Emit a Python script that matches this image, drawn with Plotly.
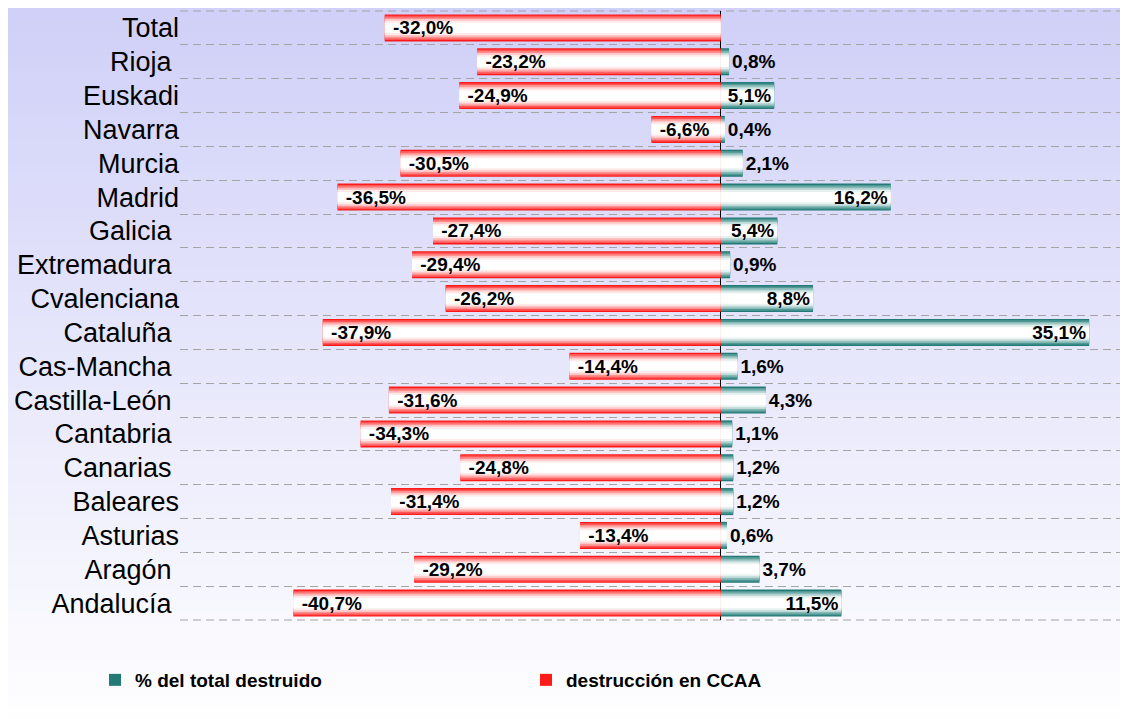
import plotly.graph_objects as go

regiones = ["Total", "Rioja", "Euskadi", "Navarra", "Murcia", "Madrid", "Galicia",
            "Extremadura", "Cvalenciana", "Cataluña", "Cas-Mancha", "Castilla-León",
            "Cantabria", "Canarias", "Baleares", "Asturias", "Aragón", "Andalucía"]
destruccion = [-32.0, -23.2, -24.9, -6.6, -30.5, -36.5, -27.4, -29.4, -26.2,
               -37.9, -14.4, -31.6, -34.3, -24.8, -31.4, -13.4, -29.2, -40.7]
pct_total = [None, 0.8, 5.1, 0.4, 2.1, 16.2, 5.4, 0.9, 8.8,
             35.1, 1.6, 4.3, 1.1, 1.2, 1.2, 0.6, 3.7, 11.5]
# etiquetas con espacio final en el original
etiquetas = ["Total", "Rioja\u00a0", "Euskadi", "Navarra", "Murcia", "Madrid", "Galicia\u00a0",
             "Extremadura\u00a0", "Cvalenciana", "Cataluña\u00a0", "Cas-Mancha\u00a0",
             "Castilla-León\u00a0", "Cantabria\u00a0", "Canarias\u00a0", "Baleares",
             "Asturias", "Aragón\u00a0", "Andalucía\u00a0"]


def fmt(v, pre=""):
    return "" if v is None else pre + f"{v:.1f}%".replace(".", ",")


FONT = "Liberation Sans, Arial, sans-serif"
# la página tiene 8px de margen en el body: se compensa aquí
W, H = 1120, 711
ML, MR, MT, MB = 172, 0, 3, 99
PW, PH = W - ML - MR, H - MT - MB
X_RANGE = [-51.5, 38.8]
GRID = dict(color="#a4a4a4", width=1, dash="8px,5px")

fig = go.Figure()

# degradado de fondo
n = 60
top, bot = (208, 208, 248), (254, 254, 255)
for i in range(n):
    f = i / (n - 1)
    c = tuple(round(top[k] + (bot[k] - top[k]) * f) for k in range(3))
    y1 = 1 + MT / PH - i * (H / PH) / n
    fig.add_shape(type="rect", xref="paper", yref="paper", layer="below",
                  x0=-ML / PW, x1=1, y0=y1 - (H / PH) / n - 0.002, y1=y1,
                  line_width=0, fillcolor="rgb(%d,%d,%d)" % c)

# líneas de rejilla superior e inferior
for yy in (0, 1):
    fig.add_shape(type="line", xref="paper", yref="paper", layer="below",
                  x0=0, x1=1, y0=yy, y1=yy, line=GRID)

widths = [0.8, 0.72, 0.62, 0.52, 0.42, 0.3]
teal_cols = ["#237a76", "#4f9894", "#86b9b6", "#bcd9d7", "#e6f1f0", "#ffffff"]
red_cols = ["#ff1a1a", "#ff5555", "#ff8f8f", "#ffc4c4", "#ffeaea", "#ffffff"]

for i, (w, c) in enumerate(zip(widths, teal_cols)):
    fig.add_trace(go.Bar(y=regiones, x=pct_total, orientation="h", width=w,
                         marker=dict(color=c, line_width=0),
                         name="% del total destruido", showlegend=(i == 0),
                         legendrank=1, hoverinfo="skip"))
for i, (w, c) in enumerate(zip(widths, red_cols)):
    fig.add_trace(go.Bar(y=regiones, x=destruccion, orientation="h", width=w,
                         marker=dict(color=c, line_width=0),
                         name="destrucción en CCAA", showlegend=(i == 0),
                         legendrank=2, hoverinfo="skip"))

# etiquetas de valor
lab_font = dict(family=FONT, size=19, color="black", weight="bold")
fig.add_trace(go.Bar(y=regiones, x=pct_total, orientation="h", width=0.8,
                     marker=dict(color="rgba(0,0,0,0)", line_width=0),
                     text=[fmt(v) for v in pct_total], textposition="auto",
                     textangle=0, constraintext="none", textfont=lab_font,
                     showlegend=False))
fig.add_trace(go.Bar(y=regiones, x=destruccion, orientation="h", width=0.8,
                     marker=dict(color="rgba(0,0,0,0)", line_width=0),
                     text=[fmt(v, "\u00a0") for v in destruccion], textposition="inside",
                     textangle=0, constraintext="none", textfont=lab_font,
                     showlegend=False))

zero_pos = (0 - X_RANGE[0]) / (X_RANGE[1] - X_RANGE[0])

fig.update_layout(
    width=W, height=H,
    margin=dict(l=ML, r=MR, t=MT, b=MB),
    barmode="overlay",
    paper_bgcolor="white",
    plot_bgcolor="rgba(0,0,0,0)",
    font=dict(family=FONT, color="black"),
    xaxis=dict(range=X_RANGE, showgrid=False, showticklabels=False,
               zeroline=True, zerolinecolor="black", zerolinewidth=1, fixedrange=True),
    yaxis=dict(categoryorder="array", categoryarray=regiones, range=[17.5, -0.5],
               tickmode="array", tickvals=regiones, ticktext=etiquetas,
               tickson="boundaries", ticks="", showgrid=True, gridcolor=GRID["color"],
               griddash=GRID["dash"], gridwidth=1, tickfont=dict(size=27, color="black"),
               fixedrange=True),
    # marcas de categoría sobre el eje en cero
    yaxis2=dict(overlaying="y", anchor="free", position=zero_pos, side="left",
                range=[17.5, -0.5], tickmode="linear", tick0=-0.5, dtick=1,
                ticks="outside", ticklen=8, tickcolor="black", tickwidth=1,
                showticklabels=False, showgrid=False, zeroline=False,
                showline=False, fixedrange=True),
    legend=dict(orientation="h", x=(87 - ML) / PW, xanchor="left",
                y=-(672 - H + MB) / PH, yanchor="middle",
                entrywidth=386, entrywidthmode="pixels",
                font=dict(family=FONT, size=19, color="black", weight="bold"),
                bgcolor="rgba(0,0,0,0)", itemclick=False),
    showlegend=True,
)

fig.write_html("out.html")
